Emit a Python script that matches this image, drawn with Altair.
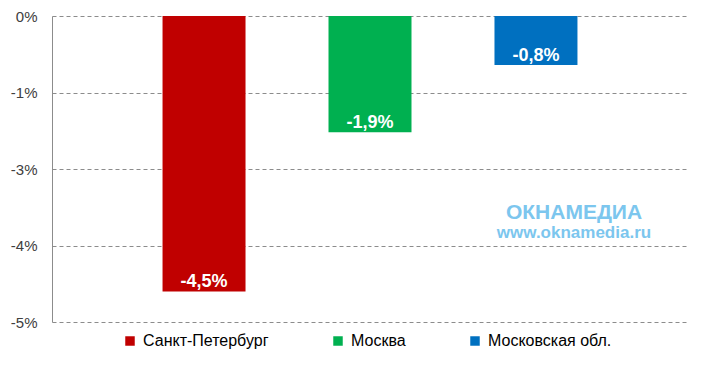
import altair as alt
import pandas as pd

regions = ["Санкт-Петербург", "Москва", "Московская обл."]
values = [-4.5, -1.9, -0.8]
value_labels = ["-4,5%", "-1,9%", "-0,8%"]
colors = ["#C00000", "#00B050", "#0070C0"]
tick_values = [0, -1.25, -2.5, -3.75, -5]
tick_labels = ["0%", "-1%", "-3%", "-4%", "-5%"]
watermark = ["ОКНАМЕДИА", "www.oknamedia.ru"]

df = pd.DataFrame({"region": regions, "value": values, "label": value_labels})

label_expr = "".join(
    f"datum.value == {v} ? '{t}' : " for v, t in zip(tick_values, tick_labels)
) + "''"

x = alt.X("region:N", sort=regions, axis=None,
          scale=alt.Scale(paddingInner=0.5, paddingOuter=0.666))
y = alt.Y("value:Q", title=None,
          scale=alt.Scale(domain=[-5, 0], nice=False, zero=True),
          axis=alt.Axis(values=tick_values, labelExpr=label_expr,
                        grid=True, gridDash=[4, 3], gridColor="#8c8c8c",
                        ticks=False, tickSize=0, labelPadding=15,
                        domain=True, domainColor="#8c8c8c",
                        labelFont="Liberation Sans", labelFontSize=15,
                        labelColor="#404040"))

bars = alt.Chart(df).mark_bar().encode(
    x=x, y=y,
    color=alt.Color("region:N", sort=regions,
                    scale=alt.Scale(domain=regions, range=colors),
                    legend=alt.Legend(title=None, orient="none", direction="horizontal",
                                      legendX=70, legendY=317,
                                      symbolType="square", symbolSize=90,
                                      symbolStrokeWidth=0, labelOffset=5,
                                      columnPadding=61,
                                      labelFont="Liberation Sans",
                                      labelFontSize=16, labelColor="#000000")),
)

texts = alt.Chart(df).mark_text(
    color="white", fontWeight="bold", font="Liberation Sans", fontSize=18,
    baseline="alphabetic", dy=-4,
).encode(x=x, y="value:Q", text="label:N")

wm_df = pd.DataFrame({"t": watermark})
wm1 = alt.Chart(wm_df.iloc[[0]]).mark_text(
    color="#7cc6ee", fontWeight="bold", font="Liberation Sans", fontSize=21,
    baseline="middle", align="center",
).encode(x=alt.value(574 - 52), y=alt.value(213 - 16), text="t:N")
wm2 = alt.Chart(wm_df.iloc[[1]]).mark_text(
    color="#7cc6ee", fontWeight="bold", font="Liberation Sans", fontSize=17,
    baseline="middle", align="center",
).encode(x=alt.value(574 - 52), y=alt.value(233 - 16), text="t:N")

chart = alt.layer(bars, texts, wm1, wm2).properties(
    width=636, height=306,
    autosize=alt.AutoSizeParams(type="none"),
    padding={"left": 44, "top": 8, "right": 7, "bottom": 40},
).configure_view(stroke=None)

chart.save("out.html", embed_options={"renderer": "svg", "actions": False})
